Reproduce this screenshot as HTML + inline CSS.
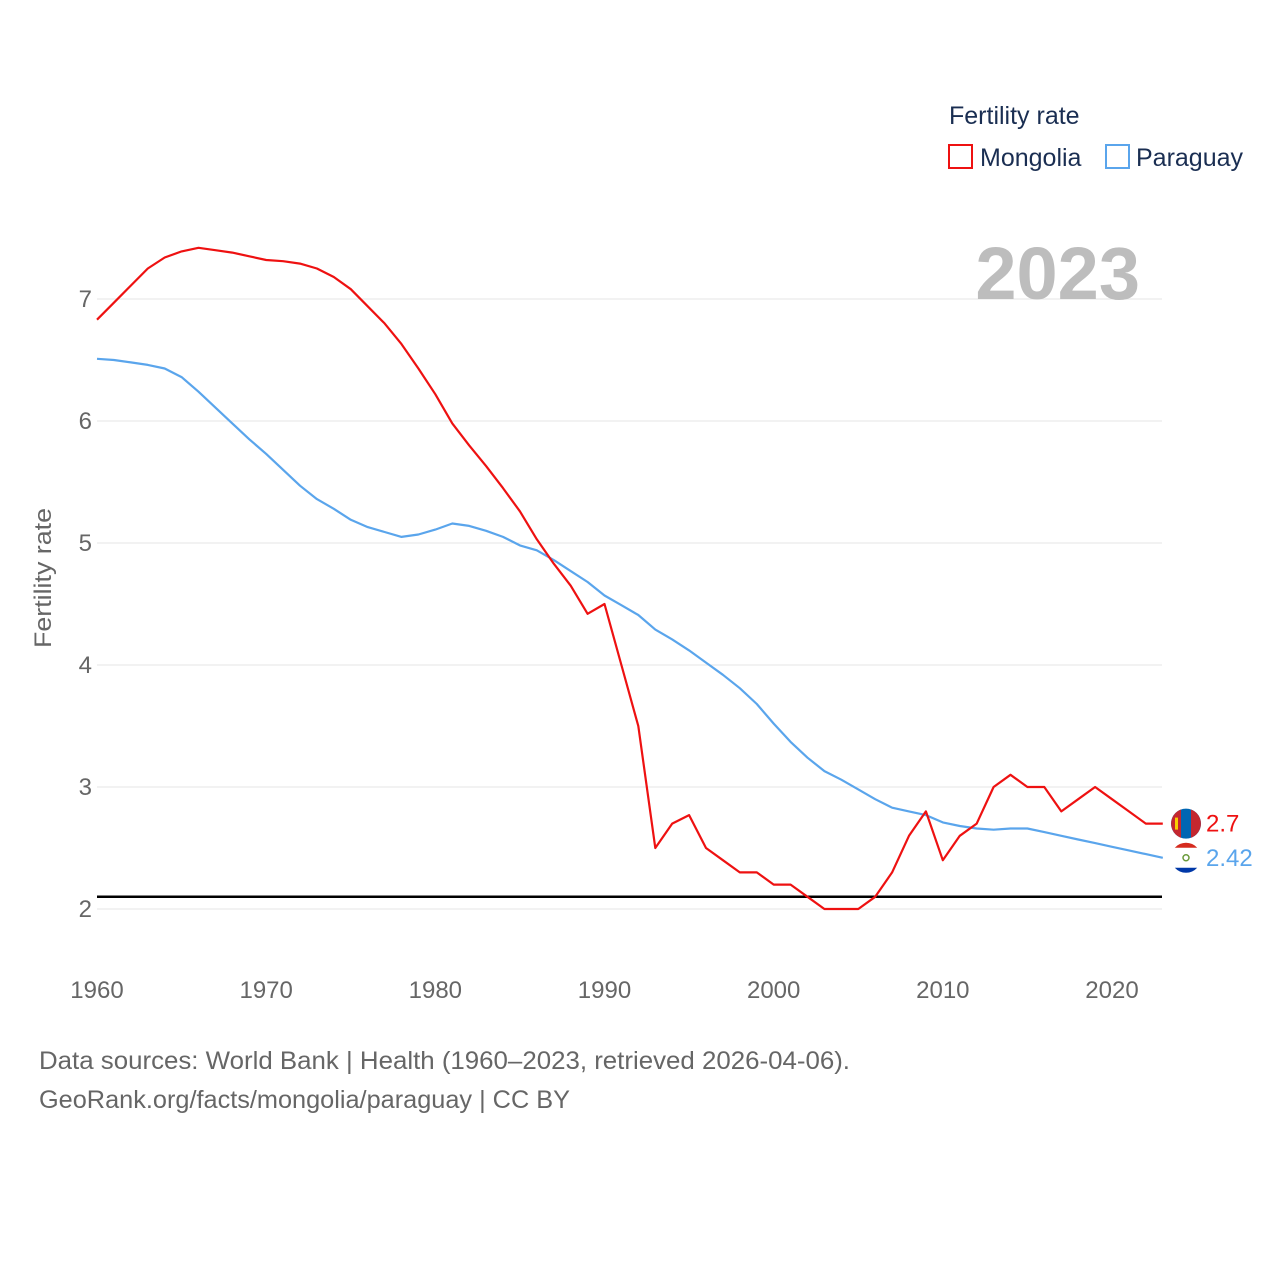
<!DOCTYPE html>
<html><head><meta charset="utf-8">
<style>
html,body{margin:0;padding:0;background:#fff;}
body{width:1280px;height:1280px;overflow:hidden;font-family:"Liberation Sans",sans-serif;}
</style></head>
<body>
<svg id="chart" width="1280" height="1280" xmlns="http://www.w3.org/2000/svg" font-family="Liberation Sans, sans-serif">
  <g id="grid"></g>
  <g id="yticks"></g>
  <g id="xticks"></g>
  <text transform="translate(51,578) rotate(-90)" text-anchor="middle" font-size="24" fill="#666" textLength="140" lengthAdjust="spacingAndGlyphs">Fertility rate</text>
  <text x="1140" y="299" text-anchor="end" font-size="74" font-weight="bold" fill="#bdbdbd">2023</text>
  <g>
    <text x="949" y="124" font-size="25" fill="#1a2e52">Fertility rate</text>
    <rect x="949" y="145" width="23" height="23" fill="none" stroke="#ee1111" stroke-width="2"/>
    <text x="980" y="166" font-size="25" fill="#1a2e52">Mongolia</text>
    <rect x="1106" y="145" width="23" height="23" fill="none" stroke="#5aa5ec" stroke-width="2"/>
    <text x="1136" y="166" font-size="25" fill="#1a2e52">Paraguay</text>
  </g>
  <g id="series"></g>
  <text x="39" y="1069" font-size="25" fill="#666" textLength="811" lengthAdjust="spacingAndGlyphs">Data sources: World Bank | Health (1960–2023, retrieved 2026-04-06).</text>
  <text x="39" y="1108" font-size="25" fill="#666" textLength="531" lengthAdjust="spacingAndGlyphs">GeoRank.org/facts/mongolia/paraguay | CC BY</text>
</svg>
<script>
const years = [];
for (let y = 1960; y <= 2023; y++) years.push(y);
const mongolia = [6.83,6.97,7.11,7.25,7.34,7.39,7.42,7.40,7.38,7.35,7.32,7.31,7.29,7.25,7.18,7.08,6.94,6.80,6.63,6.43,6.22,5.98,5.80,5.63,5.45,5.26,5.03,4.83,4.65,4.42,4.50,4.00,3.50,2.50,2.70,2.77,2.50,2.40,2.30,2.30,2.20,2.20,2.10,2.00,2.00,2.00,2.10,2.30,2.60,2.80,2.40,2.60,2.70,3.00,3.10,3.00,3.00,2.80,2.90,3.00,2.90,2.80,2.70,2.70];
const paraguay = [6.51,6.50,6.48,6.46,6.43,6.36,6.24,6.11,5.98,5.85,5.73,5.60,5.47,5.36,5.28,5.19,5.13,5.09,5.05,5.07,5.11,5.16,5.14,5.10,5.05,4.98,4.94,4.86,4.77,4.68,4.57,4.49,4.41,4.29,4.21,4.12,4.02,3.92,3.81,3.68,3.52,3.37,3.24,3.13,3.06,2.98,2.90,2.83,2.80,2.77,2.71,2.68,2.66,2.65,2.66,2.66,2.63,2.60,2.57,2.54,2.51,2.48,2.45,2.42];
const yTicks = [2,3,4,5,6,7];
const xTicks = [1960,1970,1980,1990,2000,2010,2020];
const replacementRate = 2.1;

const NS = "http://www.w3.org/2000/svg";
const x = yr => 97 + (yr - 1960) * (1112 - 97) / 60;
const y = v => 909 - (v - 2) * 122;
function mk(tag, attrs, parent){const e=document.createElementNS(NS,tag);for(const k in attrs)e.setAttribute(k,attrs[k]);parent.appendChild(e);return e;}

const grid=document.getElementById('grid'), yt=document.getElementById('yticks'), xt=document.getElementById('xticks'), ser=document.getElementById('series');
yTicks.forEach(v=>{
  const l=mk('line',{x1:97,x2:1162,y1:y(v),y2:y(v),stroke:'#e6e6e6','stroke-width':1},grid);
  
  
  const t=mk('text',{x:92,y:y(v)+8,'text-anchor':'end','font-size':24,fill:'#666'},yt);
  t.textContent=v;
  
  
});
xTicks.forEach(v=>{
  const t=mk('text',{x:x(v),y:998,'text-anchor':'middle','font-size':24,fill:'#666'},xt);
  t.textContent=v;
  
  
});
const rl=mk('line',{x1:97,x2:1162,y1:y(replacementRate),y2:y(replacementRate),stroke:'#000','stroke-width':2.5},ser);



function drawSeries(vals,color,name){
  const d=vals.map((v,i)=>(i?'L':'M')+x(years[i]).toFixed(1)+','+y(v).toFixed(1)).join(' ');
  const p=mk('path',{d:d,fill:'none',stroke:color,'stroke-width':2.2,'stroke-linejoin':'round'},ser);
  
  
}
drawSeries(paraguay,'#5aa5ec','paraguay');
drawSeries(mongolia,'#ee1111','mongolia');

const last=years.length-1;
const mY=y(mongolia[last]), pY=y(paraguay[last]);
const fm=mk('g',{},ser);


mk('circle',{cx:1186,cy:mY,r:15,fill:'#0066b3'},fm);
mk('path',{d:`M1181,${mY-14.1} A15,15 0 0 0 1181,${mY+14.1} Z`,fill:'#c4272f'},fm);
mk('path',{d:`M1191,${mY-14.1} A15,15 0 0 1 1191,${mY+14.1} Z`,fill:'#c4272f'},fm);
mk('rect',{x:1175,y:mY-6,width:3,height:12,fill:'#f9cf02'},fm);
const fp=mk('g',{},ser);


mk('circle',{cx:1186,cy:pY,r:15,fill:'#fff'},fp);
mk('path',{d:`M1174.8,${pY-10} A15,15 0 0 1 1197.2,${pY-10} Z`,fill:'#d52b1e'},fp);
mk('path',{d:`M1174.8,${pY+10} A15,15 0 0 0 1197.2,${pY+10} Z`,fill:'#0038a8'},fp);
mk('circle',{cx:1186,cy:pY,r:3,fill:'none',stroke:'#6a9a3a','stroke-width':1.5},fp);
const lm=mk('text',{x:1206,y:mY+8,'font-size':24,fill:'#ee1111'},ser);
lm.textContent=mongolia[last];


const lp=mk('text',{x:1206,y:pY+8,'font-size':24,fill:'#5aa5ec'},ser);
lp.textContent=paraguay[last];


</script>
</body></html>
